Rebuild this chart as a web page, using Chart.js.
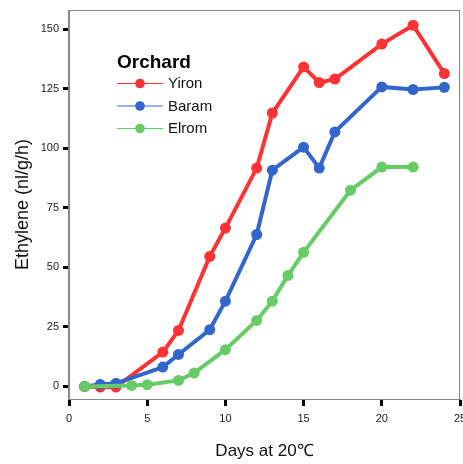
<!DOCTYPE html>
<html>
<head>
<meta charset="utf-8">
<script src="https://cdn.jsdelivr.net/npm/chart.js@4"></script>
<style>
html,body{margin:0;padding:0;background:#fff;}
canvas{display:block;}
</style>
</head>
<body>
<canvas id="c" width="463" height="464"></canvas>
<script>
const seriesNames = ["Yiron", "Baram", "Elrom"];
const seriesColors = ["#ff3333", "#3366cc", "#66cc66"];
const legendTitle = "Orchard";
const xTitle = "Days at 20℃";
const yTitle = "Ethylene (nl/g/h)";

const yironDays = [1, 2, 3, 6, 7, 9, 10, 12, 13, 15, 16, 17, 20, 22, 24];
const yironValues = [0, -0.3, -0.3, 14.4, 23.5, 54.6, 66.5, 91.7, 114.8, 134.2, 127.6, 129.1, 143.8, 151.7, 131.4];
const baramDays = [1, 2, 3, 6, 7, 9, 10, 12, 13, 15, 16, 17, 20, 22, 24];
const baramValues = [0, 0.8, 1.3, 8.1, 13.4, 23.8, 35.8, 63.8, 90.8, 100.5, 91.7, 106.9, 125.8, 124.7, 125.6];
const elromDays = [1, 4, 5, 7, 8, 10, 12, 13, 14, 15, 18, 20, 22];
const elromValues = [0, 0.4, 0.7, 2.5, 5.6, 15.4, 27.7, 35.8, 46.6, 56.3, 82.4, 92.1, 92.1];

const xTicks = [0, 5, 10, 15, 20, 25];
const yTicks = [0, 25, 50, 75, 100, 125, 150];

const FONT = '"Liberation Sans", Arial, Helvetica, sans-serif';

function pts(days, vals) { return days.map((d, i) => ({x: d, y: vals[i]})); }
const allDays = [yironDays, baramDays, elromDays];
const allVals = [yironValues, baramValues, elromValues];

const datasets = seriesNames.map((name, i) => ({
  label: name,
  data: pts(allDays[i], allVals[i]),
  borderColor: seriesColors[i],
  backgroundColor: seriesColors[i],
  pointBackgroundColor: seriesColors[i],
  pointBorderWidth: 0,
  pointRadius: 5.5,
  borderWidth: 4,
  tension: 0,
  fill: false,
  order: 3 - i
}));

const framePlugin = {
  id: 'frameAndLegend',
  afterDraw(chart) {
    const ctx = chart.ctx;
    const a = chart.chartArea;
    ctx.save();
    ctx.strokeStyle = '#888';
    ctx.lineWidth = 1;
    ctx.strokeRect(Math.round(a.left) - 0.5, Math.round(a.top) + 0.5, Math.round(a.right - a.left), Math.round(a.bottom - a.top));
    ctx.fillStyle = '#000';
    ctx.textBaseline = 'middle';
    ctx.textAlign = 'left';
    ctx.font = 'bold 19px ' + FONT;
    ctx.fillText(legendTitle, 117, 63);
    chart.data.datasets.forEach((ds, i) => {
      const y = 83 + i * 22.5;
      ctx.strokeStyle = ds.borderColor;
      ctx.lineWidth = 1;
      ctx.beginPath();
      ctx.moveTo(117, y + 0.5);
      ctx.lineTo(163, y + 0.5);
      ctx.stroke();
      ctx.fillStyle = ds.borderColor;
      ctx.beginPath();
      ctx.arc(140, y + 0.5, 4.8, 0, Math.PI * 2);
      ctx.fill();
      ctx.fillStyle = '#111';
      ctx.font = '15px ' + FONT;
      ctx.fillText(ds.label, 168, y + 1);
    });
    ctx.restore();
  }
};

new Chart(document.getElementById('c'), {
  type: 'line',
  data: {datasets},
  plugins: [framePlugin],
  options: {
    responsive: false,
    animation: false,
    devicePixelRatio: 1,
    layout: {autoPadding: false, padding: {left: 0, right: 3, top: 10, bottom: 0}},
    plugins: {legend: {display: false}, tooltip: {enabled: false}},
    scales: {
      x: {
        type: 'linear',
        position: 'bottom',
        min: 0,
        max: 25,
        afterBuildTicks(s) { s.ticks = xTicks.map(v => ({value: v})); },
        afterFit(s) { s.height = 65; s.paddingLeft = 0; s.paddingRight = 0; },
        grid: {drawOnChartArea: false, drawTicks: true, tickLength: 7, tickWidth: 3, tickColor: '#000'},
        border: {display: true, color: '#888', width: 1},
        ticks: {font: {family: FONT, size: 11}, color: '#222', padding: 6, maxRotation: 0},
        title: {display: true, text: xTitle, color: '#111', font: {family: FONT, size: 17}, padding: {top: 0, bottom: 2}}
      },
      y: {
        type: 'linear',
        position: 'left',
        min: -5.3,
        max: 158.1,
        afterBuildTicks(s) { s.ticks = yTicks.map(v => ({value: v})); },
        afterFit(s) { s.width = 69; s.paddingTop = 0; s.paddingBottom = 0; },
        grid: {drawOnChartArea: false, drawTicks: true, tickLength: 6, tickWidth: 3, tickColor: '#000'},
        border: {display: true, color: '#888', width: 1},
        ticks: {font: {family: FONT, size: 11}, color: '#222', padding: 4},
        title: {display: true, text: yTitle, color: '#111', font: {family: FONT, size: 18}, padding: {top: 12, bottom: 0}}
      }
    }
  }
});
</script>
</body>
</html>
